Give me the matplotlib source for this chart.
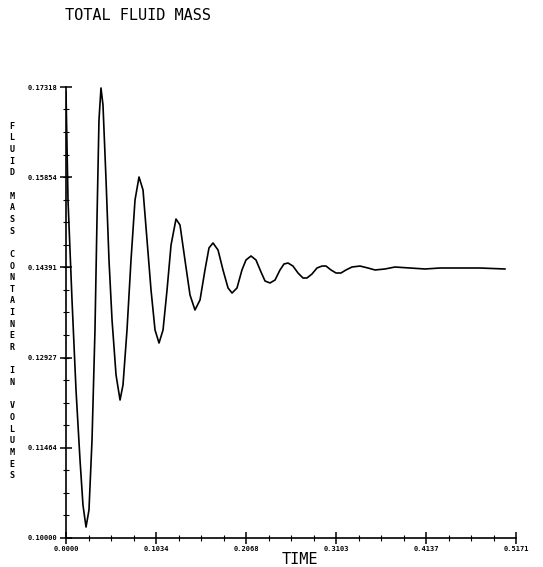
import matplotlib
matplotlib.use("Agg")
import matplotlib.pyplot as plt
from matplotlib.ticker import FixedLocator, AutoMinorLocator

# ---- data ----
time = [0.0000, 0.0023, 0.0069, 0.0115, 0.0161, 0.0195, 0.0230, 0.0264, 0.0299, 0.0333,
        0.0356, 0.0379, 0.0402, 0.0425, 0.0460, 0.0494, 0.0529, 0.0575, 0.0621, 0.0655,
        0.0701, 0.0747, 0.0793, 0.0839, 0.0885, 0.0931, 0.0977, 0.1023, 0.1069, 0.1115,
        0.1161, 0.1207, 0.1264, 0.1310, 0.1367, 0.1425, 0.1482, 0.1540, 0.1597, 0.1643,
        0.1689, 0.1747, 0.1804, 0.1862, 0.1908, 0.1965, 0.2022, 0.2068, 0.2126, 0.2183,
        0.2241, 0.2287, 0.2344, 0.2402, 0.2459, 0.2505, 0.2551, 0.2608, 0.2666, 0.2723,
        0.2769, 0.2827, 0.2884, 0.2942, 0.2988, 0.3045, 0.3103, 0.3160, 0.3217, 0.3286,
        0.3378, 0.3470, 0.3551, 0.3665, 0.3780, 0.3953, 0.4125, 0.4298, 0.4527, 0.4757,
        0.5044]
mass = [0.17237, 0.15484, 0.13862, 0.12401, 0.11266, 0.10535, 0.10178, 0.10454, 0.11590, 0.13375,
        0.15160, 0.16782, 0.17302, 0.17026, 0.15809, 0.14511, 0.13537, 0.12645, 0.12239, 0.12483,
        0.13375, 0.14511, 0.15484, 0.15858, 0.15647, 0.14835, 0.14024, 0.13375, 0.13164, 0.13375,
        0.14024, 0.14754, 0.15176, 0.15079, 0.14511, 0.13943, 0.13700, 0.13862, 0.14349, 0.14706,
        0.14787, 0.14673, 0.14349, 0.14057, 0.13975, 0.14057, 0.14349, 0.14511, 0.14576, 0.14511,
        0.14316, 0.14170, 0.14138, 0.14186, 0.14349, 0.14446, 0.14462, 0.14413, 0.14300, 0.14219,
        0.14219, 0.14284, 0.14381, 0.14413, 0.14413, 0.14349, 0.14300, 0.14300, 0.14349, 0.14397,
        0.14413, 0.14381, 0.14349, 0.14365, 0.14397, 0.14381, 0.14365, 0.14381, 0.14381, 0.14381,
        0.14365]

x_ticks = [0.0, 0.10342, 0.20684, 0.31026, 0.41368, 0.5171]
x_tick_labels = ["0.0000", "0.1034", "0.2068", "0.3103", "0.4137", "0.5171"]
y_ticks = [0.10000, 0.11464, 0.12927, 0.14391, 0.15854, 0.17318]
y_tick_labels = ["0.10000", "0.11464", "0.12927", "0.14391", "0.15854", "0.17318"]

title = "TOTAL FLUID MASS"
x_label = "TIME"
y_label_words = ["FLUID", "MASS", "CONTAINER", "IN", "VOLUMES"]

# ---- figure ----
W, H = 543, 567
fig = plt.figure(figsize=(W / 100, H / 100), dpi=100)
fig.patch.set_facecolor("white")
ax = fig.add_axes([66 / W, 1 - 538 / H, (516 - 66) / W, (538 - 87) / H])

ax.plot(time, mass, color="black", lw=1.2)

ax.set_xlim(0, 0.5171)
ax.set_ylim(0.10000, 0.17318)
for s in ["top", "right"]:
    ax.spines[s].set_visible(False)
for s in ["left", "bottom"]:
    ax.spines[s].set_linewidth(1.2)

mono = "DejaVu Sans Mono"
ax.xaxis.set_major_locator(FixedLocator(x_ticks))
ax.yaxis.set_major_locator(FixedLocator(y_ticks))
ax.set_xticklabels(x_tick_labels, fontsize=5, family=mono, fontweight="bold")
ax.set_yticklabels(y_tick_labels, fontsize=5, family=mono, fontweight="bold")
ax.xaxis.set_minor_locator(AutoMinorLocator(4))
ax.yaxis.set_minor_locator(AutoMinorLocator(4))
ax.tick_params(which="major", direction="inout", length=8, width=1.1, pad=2)
ax.tick_params(which="minor", direction="inout", length=4, width=0.8)

fig.text(65 / W, 1 - 15 / H, title, family=mono, fontsize=11,
         ha="left", va="center")
fig.text(300 / W, 1 - 559 / H, x_label, family=mono, fontsize=11,
         ha="center", va="center")

ylab = "\n\n".join("\n".join(w) for w in y_label_words)
fig.text(12 / W, 1 - 301 / H, ylab, family=mono, fontsize=6, fontweight="bold",
         ha="center", va="center", linespacing=1.38, multialignment="center")

fig.savefig("out.png", dpi=100, facecolor="white")
